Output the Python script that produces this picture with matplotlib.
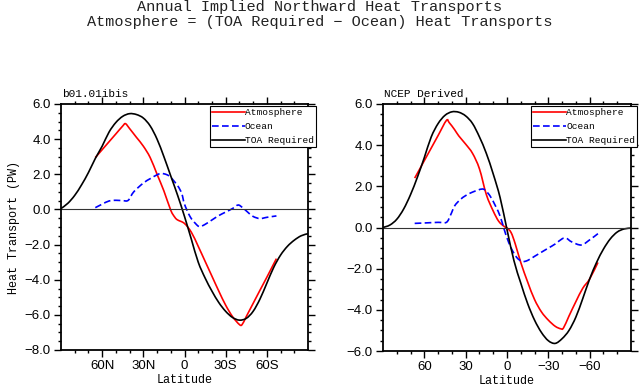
import numpy as np
import matplotlib
matplotlib.use("Agg")
import matplotlib.pyplot as plt
from matplotlib.path import Path
from matplotlib.patches import PathPatch
from matplotlib.lines import Line2D
from matplotlib.ticker import FixedLocator, MultipleLocator, FixedFormatter

# ---- data (latitude, PW) ----
# left panel: b01.01ibis
lat_toa_l = [90, 85, 80, 75, 70, 65, 60, 55, 50, 45, 40, 35, 30, 25, 20, 15, 10, 5, 0,
             -5, -10, -15, -20, -25, -30, -35, -40, -45, -50, -55, -60, -65, -70, -75, -80, -85, -90]
toa_l = [0.05, 0.35, 0.8, 1.4, 2.1, 2.9, 3.6, 4.4, 4.95, 5.3, 5.45, 5.4, 5.2, 4.75, 4.0, 3.0, 1.9, 0.8, -0.4,
         -1.7, -3.0, -3.9, -4.65, -5.3, -5.8, -6.15, -6.3, -6.2, -5.8, -5.1, -4.2, -3.3, -2.6, -2.1, -1.75, -1.5, -1.38]
lat_atm_l = [65, 60, 55, 50, 45, 43, 40, 35, 30, 25, 20, 15, 10, 7, 5, 0,
             -5, -10, -15, -20, -25, -30, -35, -40, -42, -45, -50, -55, -60, -65, -67]
atm_l = [2.95, 3.4, 3.85, 4.3, 4.75, 4.88, 4.6, 4.1, 3.6, 2.95, 2.0, 1.05, -0.05, -0.45, -0.6, -0.8,
         -1.3, -2.1, -2.95, -3.8, -4.65, -5.45, -6.1, -6.55, -6.55, -6.1, -5.35, -4.6, -3.86, -3.1, -2.8]
lat_ocn_l = [65, 60, 55, 50, 45, 41, 37, 30, 25, 20, 17, 13, 10, 5, 2, 0,
             -4, -8, -11, -15, -20, -25, -30, -35, -39, -42, -46, -50, -55, -60, -67]
ocn_l = [0.1, 0.3, 0.48, 0.52, 0.5, 0.52, 1.0, 1.5, 1.75, 1.97, 2.05, 1.98, 1.82, 1.35, 0.9, 0.3,
         -0.4, -0.8, -0.98, -0.85, -0.6, -0.35, -0.15, 0.05, 0.25, 0.12, -0.15, -0.4, -0.52, -0.45, -0.37]

# right panel: NCEP Derived
lat_toa_r = lat_toa_l
toa_r = [0.0, 0.12, 0.4, 0.9, 1.6, 2.45, 3.4, 4.4, 5.05, 5.45, 5.62, 5.6, 5.42, 5.05, 4.4, 3.6, 2.6, 1.45, -0.1,
         -1.6, -2.7, -3.7, -4.5, -5.1, -5.5, -5.63, -5.4, -5.0, -4.35, -3.45, -2.5, -1.7, -1.05, -0.55, -0.22, -0.07, -0.03]
lat_atm_r = [67, 65, 60, 55, 50, 44, 42, 38, 35, 30, 25, 20, 15, 10, 6, 2, 0,
             -3, -6, -10, -15, -20, -25, -30, -35, -39, -41, -45, -50, -55, -60, -66]
atm_r = [2.4, 2.64, 3.25, 3.86, 4.47, 5.2, 5.1, 4.75, 4.45, 4.05, 3.6, 2.85, 1.6, 0.8, 0.3, 0.05, -0.02,
         -0.25, -0.8, -1.7, -2.65, -3.5, -4.1, -4.5, -4.8, -4.92, -4.88, -4.3, -3.6, -2.95, -2.5, -1.7]
lat_ocn_r = [67, 60, 50, 44, 41, 38, 34, 30, 25, 18, 15, 12, 8, 5, 2, 0,
             -3, -7, -11, -15, -20, -25, -30, -35, -40, -43, -47, -54, -60, -66]
ocn_r = [0.2, 0.22, 0.25, 0.25, 0.6, 1.05, 1.35, 1.55, 1.72, 1.87, 1.75, 1.5, 1.0, 0.55, -0.1, -0.5,
         -1.0, -1.45, -1.65, -1.6, -1.4, -1.2, -1.0, -0.8, -0.55, -0.52, -0.7, -0.85, -0.6, -0.3]

xticks = [60, 30, 0, -30, -60]
xlabels_l = ["60N", "30N", "0", "30S", "60S"]
xlabels_r = ["60", "30", "0", "\u221230", "\u221260"]

W, H = 639, 391
MONO = "Liberation Mono"
SANS = "Liberation Sans"


def smooth_path(x, y):
    # Catmull-Rom through the read points, drawn as cubic Bezier segments
    p = np.column_stack([x, y]).astype(float)
    ext = np.vstack([p[0], p, p[-1]])
    verts = [p[0]]
    codes = [Path.MOVETO]
    for i in range(1, len(ext) - 2):
        p0, p1, p2, p3 = ext[i - 1], ext[i], ext[i + 1], ext[i + 2]
        verts += [p1 + (p2 - p0) / 6.0, p2 - (p3 - p1) / 6.0, p2]
        codes += [Path.CURVE4] * 3
    return Path(verts, codes)


def setup_axis(ax, ylim, xlabels, title):
    ax.set_xlim(90, -90)
    ax.set_ylim(*ylim)
    ax.xaxis.set_major_locator(FixedLocator(xticks))
    ax.xaxis.set_major_formatter(FixedFormatter(xlabels))
    ax.xaxis.set_minor_locator(FixedLocator([v for v in range(-80, 90, 10) if v % 30 != 0]))
    ax.yaxis.set_major_locator(MultipleLocator(2.0))
    ax.yaxis.set_minor_locator(MultipleLocator(0.5))
    ax.yaxis.set_major_formatter(plt.FuncFormatter(lambda v, p: ("%.1f" % v).replace("-", "\u2212")))
    ax.tick_params(which="both", direction="out", top=True, right=True, width=1.0)
    ax.tick_params(which="major", length=5, labelsize=9.5, pad=2.5)
    ax.tick_params(which="minor", length=2.5)
    for lab in ax.get_xticklabels() + ax.get_yticklabels():
        lab.set_fontfamily(SANS)
    for s in ax.spines.values():
        s.set_linewidth(1.3)
    ax.axhline(0, color="#333333", lw=0.8)
    ax.set_xlabel("Latitude", fontfamily=MONO, fontsize=8.5, labelpad=1)
    ax.text(0.005, 1.02, title, transform=ax.transAxes, ha="left", va="bottom",
            fontfamily=MONO, fontsize=8)


styles = [("Atmosphere", "red", "-"), ("Ocean", "blue", (0, (4, 2))), ("TOA Required", "black", "-")]


def draw(ax, series):
    for (name, col, ls), (xs, ys) in zip(styles, series):
        ax.add_patch(PathPatch(smooth_path(xs, ys), fill=False, edgecolor=col, lw=1.2, linestyle=ls))


fig = plt.figure(figsize=(W / 100, H / 100), dpi=100)
axl = fig.add_axes([61 / W, (H - 350) / H, 247 / W, 246 / H])
axr = fig.add_axes([383 / W, (H - 351) / H, 248 / W, 247 / H])

draw(axl, [(lat_atm_l, atm_l), (lat_ocn_l, ocn_l), (lat_toa_l, toa_l)])
draw(axr, [(lat_atm_r, atm_r), (lat_ocn_r, ocn_r), (lat_toa_r, toa_r)])

setup_axis(axl, (-8, 6), xlabels_l, "b01.01ibis")
setup_axis(axr, (-6, 6), xlabels_r, "NCEP Derived")
axl.set_ylabel("Heat Transport (PW)", fontfamily=MONO, fontsize=8.5, labelpad=3)

handles = [Line2D([], [], color=c, lw=1.2, ls=ls) for _, c, ls in styles]
names = [n for n, _, _ in styles]
for ax, x0 in ((axl, 0.603), (axr, 0.598)):
    leg = ax.legend(handles, names, loc="upper left", bbox_to_anchor=(x0, 0.992), borderaxespad=0,
                    prop={"family": MONO, "size": 6.8}, handlelength=3.5, handletextpad=0.0,
                    labelspacing=0.55, borderpad=0.2, fancybox=False, framealpha=1)
    leg.get_frame().set_edgecolor("black")
    leg.get_frame().set_linewidth(0.8)
    leg.set_clip_on(False)

fig.text(0.5, 1 - 7 / H, "Annual Implied Northward Heat Transports", ha="center", va="center",
         fontfamily=MONO, fontsize=11, color="#222222")
fig.text(0.5, 1 - 22 / H, "Atmosphere = (TOA Required \u2212 Ocean) Heat Transports", ha="center",
         va="center", fontfamily=MONO, fontsize=11, color="#222222")

fig.savefig("out.png", dpi=100)
